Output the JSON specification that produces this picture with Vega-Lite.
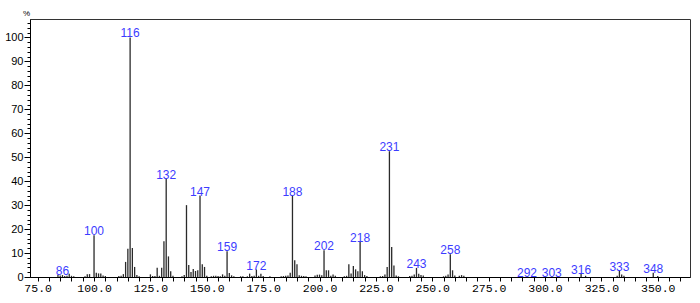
{
  "$schema": "https://vega.github.io/schema/vega-lite/v6.json",
  "autosize": {"type": "none"},
  "padding": {"left": 30, "top": 19, "right": 10, "bottom": 26},
  "width": 660,
  "height": 258,
  "background": "white",
  "config": {
    "view": {"stroke": "#333333", "strokeWidth": 1},
    "axis": {"grid": false, "domainColor": "#000000", "tickColor": "#000000", "labelColor": "#000000"}
  },
  "data": {
    "values": [
      {"mz": 84, "pct": 0.8}, {"mz": 85, "pct": 0.6}, {"mz": 86, "pct": 0.8, "lab": "86"}, {"mz": 87, "pct": 0.4},
      {"mz": 88, "pct": 0.5}, {"mz": 89, "pct": 1.4}, {"mz": 90, "pct": 0.5}, {"mz": 91, "pct": 0.3},
      {"mz": 96, "pct": 0.3}, {"mz": 97, "pct": 1.2}, {"mz": 98, "pct": 1.2}, {"mz": 100, "pct": 17.4, "lab": "100"},
      {"mz": 101, "pct": 1.8}, {"mz": 102, "pct": 1.5}, {"mz": 103, "pct": 1.5}, {"mz": 104, "pct": 0.6}, {"mz": 105, "pct": 0.4},
      {"mz": 111, "pct": 0.4}, {"mz": 112, "pct": 0.5}, {"mz": 113, "pct": 1.2}, {"mz": 114, "pct": 6.3},
      {"mz": 115, "pct": 11.8}, {"mz": 116, "pct": 100, "lab": "116"}, {"mz": 117, "pct": 12.1}, {"mz": 118, "pct": 4.2},
      {"mz": 119, "pct": 0.8}, {"mz": 120, "pct": 0.3},
      {"mz": 125, "pct": 1.1}, {"mz": 126, "pct": 0.4}, {"mz": 127, "pct": 0.4}, {"mz": 128, "pct": 3.9},
      {"mz": 129, "pct": 0.5}, {"mz": 130, "pct": 3.9}, {"mz": 131, "pct": 14.9}, {"mz": 132, "pct": 41, "lab": "132"},
      {"mz": 133, "pct": 8.6}, {"mz": 134, "pct": 2.4}, {"mz": 135, "pct": 0.5}, {"mz": 139, "pct": 0.3},
      {"mz": 140, "pct": 0.8}, {"mz": 141, "pct": 30}, {"mz": 142, "pct": 5}, {"mz": 143, "pct": 2.1},
      {"mz": 144, "pct": 3.3}, {"mz": 145, "pct": 2.5}, {"mz": 146, "pct": 2.8}, {"mz": 147, "pct": 34, "lab": "147"},
      {"mz": 148, "pct": 5.3}, {"mz": 149, "pct": 4.2}, {"mz": 150, "pct": 0.5}, {"mz": 152, "pct": 0.3},
      {"mz": 153, "pct": 0.5}, {"mz": 154, "pct": 0.5}, {"mz": 155, "pct": 0.4}, {"mz": 156, "pct": 0.3},
      {"mz": 157, "pct": 1.1}, {"mz": 158, "pct": 0.5}, {"mz": 159, "pct": 10.7, "lab": "159"}, {"mz": 160, "pct": 1.7},
      {"mz": 161, "pct": 0.7}, {"mz": 162, "pct": 0.3}, {"mz": 165, "pct": 0.3}, {"mz": 166, "pct": 0.3},
      {"mz": 168, "pct": 0.3}, {"mz": 169, "pct": 1.4}, {"mz": 170, "pct": 0.4}, {"mz": 171, "pct": 0.5},
      {"mz": 172, "pct": 3.1, "lab": "172"}, {"mz": 173, "pct": 0.5}, {"mz": 174, "pct": 1.4}, {"mz": 175, "pct": 0.4},
      {"mz": 178, "pct": 0.3}, {"mz": 183, "pct": 0.3}, {"mz": 184, "pct": 0.4}, {"mz": 185, "pct": 0.5},
      {"mz": 186, "pct": 0.6}, {"mz": 187, "pct": 1.8}, {"mz": 188, "pct": 34, "lab": "188"}, {"mz": 189, "pct": 7},
      {"mz": 190, "pct": 5.3}, {"mz": 191, "pct": 0.7}, {"mz": 192, "pct": 0.5}, {"mz": 193, "pct": 0.4},
      {"mz": 194, "pct": 0.3}, {"mz": 198, "pct": 0.6}, {"mz": 199, "pct": 0.9}, {"mz": 200, "pct": 1},
      {"mz": 201, "pct": 0.7}, {"mz": 202, "pct": 11.2, "lab": "202"}, {"mz": 203, "pct": 2.8}, {"mz": 204, "pct": 2.8},
      {"mz": 205, "pct": 0.5}, {"mz": 206, "pct": 1}, {"mz": 207, "pct": 0.5}, {"mz": 211, "pct": 0.3},
      {"mz": 212, "pct": 0.5}, {"mz": 213, "pct": 5.3}, {"mz": 214, "pct": 1.5}, {"mz": 215, "pct": 4.6},
      {"mz": 216, "pct": 3.2}, {"mz": 217, "pct": 2.4}, {"mz": 218, "pct": 14.6, "lab": "218"}, {"mz": 219, "pct": 2.4},
      {"mz": 220, "pct": 0.8}, {"mz": 221, "pct": 0.4}, {"mz": 227, "pct": 0.3}, {"mz": 228, "pct": 0.4},
      {"mz": 229, "pct": 1}, {"mz": 230, "pct": 4.2}, {"mz": 231, "pct": 52.5, "lab": "231"}, {"mz": 232, "pct": 12.5},
      {"mz": 233, "pct": 4.8}, {"mz": 234, "pct": 0.6}, {"mz": 235, "pct": 0.3},
      {"mz": 240, "pct": 0.4}, {"mz": 241, "pct": 0.5}, {"mz": 242, "pct": 1}, {"mz": 243, "pct": 3.8, "lab": "243"},
      {"mz": 244, "pct": 1.4}, {"mz": 245, "pct": 0.8}, {"mz": 246, "pct": 0.6},
      {"mz": 255, "pct": 0.3}, {"mz": 256, "pct": 0.5}, {"mz": 257, "pct": 1}, {"mz": 258, "pct": 9.5, "lab": "258"},
      {"mz": 259, "pct": 2.8}, {"mz": 260, "pct": 0.6}, {"mz": 262, "pct": 0.5}, {"mz": 263, "pct": 0.8}, {"mz": 264, "pct": 0.5},
      {"mz": 292, "pct": 0.2, "lab": "292"}, {"mz": 303, "pct": 0.2, "lab": "303"},
      {"mz": 316, "pct": 1.4, "lab": "316"}, {"mz": 318, "pct": 0.5},
      {"mz": 332, "pct": 0.5}, {"mz": 333, "pct": 2.5, "lab": "333"}, {"mz": 334, "pct": 1}, {"mz": 335, "pct": 0.5},
      {"mz": 348, "pct": 1.8, "lab": "348"}, {"mz": 350, "pct": 0.4}
    ]
  },
  "encoding": {
    "x": {
      "field": "mz", "type": "quantitative",
      "scale": {"domain": [71.6, 364.3], "nice": false, "zero": false},
      "axis": {
        "title": null,
        "values": [75, 80, 85, 90, 95, 100, 105, 110, 115, 120, 125, 130, 135, 140, 145, 150, 155, 160, 165, 170, 175, 180, 185, 190, 195, 200, 205, 210, 215, 220, 225, 230, 235, 240, 245, 250, 255, 260, 265, 270, 275, 280, 285, 290, 295, 300, 305, 310, 315, 320, 325, 330, 335, 340, 345, 350, 355, 360],
        "labelExpr": "datum.value % 25 === 0 ? format(datum.value, '.1f') : ''",
        "labelFlush": false,
        "labelOverlap": false,
        "tickSize": 4,
        "labelPadding": 1,
        "labelFont": "Liberation Mono",
        "labelFontSize": 11.5
      }
    },
    "y": {
      "field": "pct", "type": "quantitative",
      "scale": {"domain": [0, 107.7], "nice": false},
      "axis": {
        "title": "%",
        "titleAngle": 0,
        "titleX": -4,
        "titleY": -6,
        "titleAlign": "center",
        "titleBaseline": "middle",
        "titleFontSize": 8,
        "titleFontWeight": "normal",
        "titleFont": "Liberation Sans",
        "values": [0, 2, 4, 6, 8, 10, 12, 14, 16, 18, 20, 22, 24, 26, 28, 30, 32, 34, 36, 38, 40, 42, 44, 46, 48, 50, 52, 54, 56, 58, 60, 62, 64, 66, 68, 70, 72, 74, 76, 78, 80, 82, 84, 86, 88, 90, 92, 94, 96, 98, 100, 102, 104, 106],
        "labelExpr": "datum.value % 10 === 0 ? datum.value : ''",
        "tickSize": {"condition": {"test": "datum.value % 10 === 0", "value": 6}, "value": 3},
        "labelFlush": false,
        "labelOverlap": false,
        "labelPadding": 1,
        "labelFont": "Liberation Sans",
        "labelFontSize": 11
      }
    }
  },
  "layer": [
    {
      "mark": {"type": "rule", "color": "#2a2a2a", "strokeWidth": 1.3},
      "encoding": {"y2": {"datum": 0}}
    },
    {
      "transform": [{"filter": "isValid(datum.lab)"}],
      "mark": {"type": "text", "color": "#3c3cff", "font": "Liberation Sans", "fontSize": 12, "baseline": "alphabetic", "align": "center", "dy": 0},
      "encoding": {"text": {"field": "lab"}}
    }
  ]
}
